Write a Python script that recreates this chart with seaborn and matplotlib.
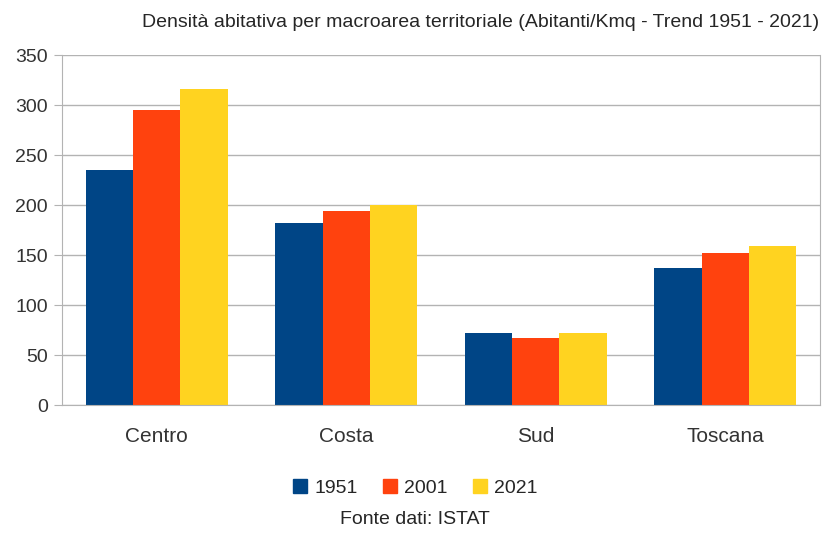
import pandas as pd
import matplotlib.pyplot as plt
import seaborn as sns

# Dati (Abitanti/Kmq)
aree = ["Centro", "Costa", "Sud", "Toscana"]
anni = ["1951", "2001", "2021"]
v1951 = [235, 182, 72, 137]
v2001 = [295, 194, 67, 152]
v2021 = [316, 200, 72, 159]
colori = ["#004586", "#ff420e", "#ffd320"]

df = pd.DataFrame({
    "area": aree * 3,
    "anno": [a for a in anni for _ in aree],
    "densita": v1951 + v2001 + v2021,
})

sns.set_style("white")
plt.rcParams["font.family"] = ["Liberation Sans", "DejaVu Sans"]

fig = plt.figure(figsize=(8.32, 5.33), dpi=100)
ax = fig.add_axes([62 / 832, 1 - 405 / 533, (820 - 62) / 832, 350 / 533])

sns.barplot(data=df, x="area", y="densita", hue="anno", palette=colori,
            width=0.75, saturation=1, linewidth=0, ax=ax, legend=False)

ax.set_ylim(0, 350)
ax.set_xlim(-0.5, 3.5)
ax.set_yticks(range(0, 351, 50))
ax.yaxis.grid(True, color="#b3b3b3", linewidth=1)
ax.set_axisbelow(True)
ax.set_xlabel("")
ax.set_ylabel("")
ax.tick_params(axis="y", labelsize=14, length=6, color="#b3b3b3", pad=4, labelcolor="#333333")
ax.tick_params(axis="x", labelsize=15, length=0, pad=16, labelcolor="#333333")
ax.set_xticks([-0.5, 0.5, 1.5, 2.5, 3.5], minor=True)
ax.tick_params(axis="x", which="minor", length=8, color="#b3b3b3", width=1)
ax.tick_params(axis="y", left=True)
for s in ["left", "right", "bottom"]:
    ax.spines[s].set_color("#b3b3b3")
ax.spines["top"].set_visible(False)

fig.text(0.578, 0.957, "Densità abitativa per macroarea territoriale (Abitanti/Kmq - Trend 1951 - 2021)",
         ha="center", va="center", fontsize=14)

handles = [plt.Rectangle((0, 0), 1, 1, color=c) for c in colori]
fig.legend(handles, anni, loc="center", bbox_to_anchor=(0.499, 0.085), ncol=3,
           frameon=False, fontsize=14, handlelength=0.75, handleheight=0.75,
           handletextpad=0.35, columnspacing=1.3)
fig.text(0.499, 0.025, "Fonte dati: ISTAT", ha="center", va="center", fontsize=14)

fig.savefig("out.png", dpi=100)
